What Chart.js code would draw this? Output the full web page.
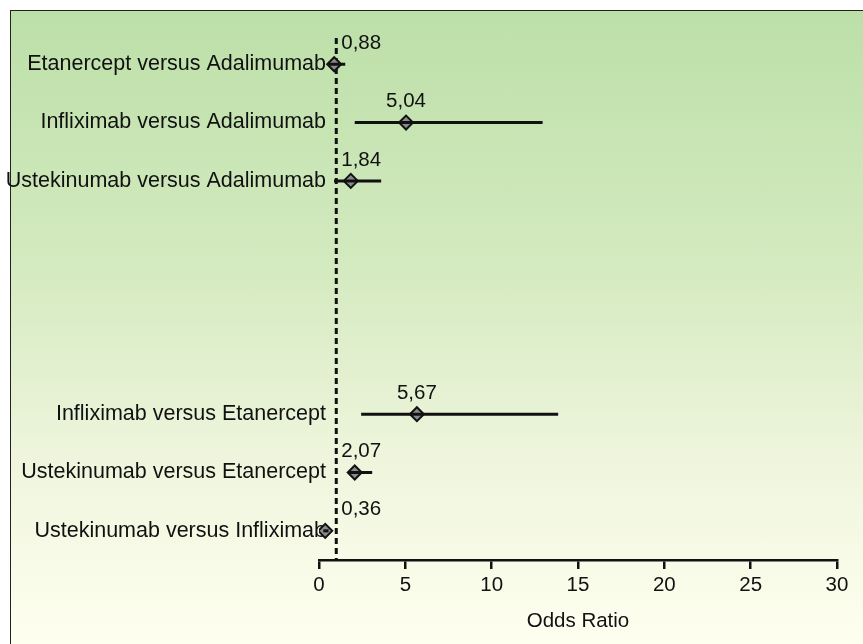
<!DOCTYPE html>
<html>
<head>
<meta charset="utf-8">
<script src="https://cdn.jsdelivr.net/npm/chart.js@4/dist/chart.umd.min.js"></script>
<style>
    html, body { margin: 0; padding: 0; background: #fff; }
    #frame {
        position: absolute;
        left: 10px;
        top: 10px;
        width: 853px;
        height: 634px;
        border-left: 1.5px solid #222;
        border-top: 1.5px solid #222;
        background: linear-gradient(to bottom, #bcdfa8 0%, #d4eac0 40%, #eef5dc 70%, #fffff0 100%);
    }
    #chartForest { position: absolute; left: 0; top: 0; }
</style>
</head>
<body>
<div id="frame"></div>
<canvas id="chartForest" width="863" height="644"></canvas>
<script>
const comparisons = [
    'Etanercept versus Adalimumab',
    'Infliximab versus Adalimumab',
    'Ustekinumab versus Adalimumab',
    '',
    '',
    '',
    'Infliximab versus Etanercept',
    'Ustekinumab versus Etanercept',
    'Ustekinumab versus Infliximab',
];
const oddsRatio = [0.88, 5.04, 1.84, null, null, null, 5.67, 2.07, 0.36];
const ciLow = [0.55, 2.07, 0.87, null, null, null, 2.44, 1.74, 0.25];
const ciHigh = [1.52, 12.95, 3.6, null, null, null, 13.85, 3.08, 0.55];
const xTickValues = [0, 5, 10, 15, 20, 25, 30];
const referenceLine = 1;

const family = '"Liberation Sans", Arial, sans-serif';
Chart.defaults.font.family = family;
Chart.defaults.font.size = 20.5;
Chart.defaults.color = '#111';

const fmt = (v) => v.toFixed(2).replace('.', ',');

// one line per row for the confidence interval
const ciSets = comparisons.map((c, i) => ({
    type: 'scatter',
    showLine: true,
    data: oddsRatio[i] === null ? [] : [{x: ciLow[i], y: i}, {x: ciHigh[i], y: i}],
    borderColor: '#111',
    borderWidth: 3,
    pointRadius: 0,
}));

const pointSet = {
    type: 'scatter',
    data: oddsRatio.map((v, i) => ({x: v, y: i})).filter(p => p.x !== null),
    pointStyle: 'rectRot',
    pointRadius: 7,
    backgroundColor: '#8a8a8a',
    borderColor: '#111',
    borderWidth: 2,
};

const forestPlugin = {
    id: 'forest',
    beforeDatasetsDraw(chart) {
        const {ctx, chartArea, scales} = chart;
        const px = scales.x.getPixelForValue(referenceLine);
        ctx.save();
        ctx.strokeStyle = '#111';
        ctx.lineWidth = 3;
        ctx.setLineDash([6, 4]);
        ctx.beginPath();
        ctx.moveTo(px, chartArea.top);
        ctx.lineTo(px, chartArea.bottom);
        ctx.stroke();
        ctx.restore();

        // row labels, right aligned just past the start of the axis
        ctx.save();
        ctx.font = '21.5px ' + family;
        ctx.fillStyle = '#111';
        ctx.textBaseline = 'middle';
        ctx.textAlign = 'right';
        comparisons.forEach((c, i) => {
            if (!c) return;
            ctx.fillText(c, chartArea.left + 7, scales.y.getPixelForValue(i));
        });
        ctx.restore();
    },
    afterDatasetsDraw(chart) {
        const {ctx, scales} = chart;
        const refX = scales.x.getPixelForValue(referenceLine);
        ctx.save();
        ctx.font = '20.5px ' + family;
        ctx.fillStyle = '#111';
        ctx.textBaseline = 'middle';
        ctx.textAlign = 'left';
        oddsRatio.forEach((v, i) => {
            if (v === null) return;
            const txt = fmt(v);
            const w = ctx.measureText(txt).width;
            const px = scales.x.getPixelForValue(v);
            const py = scales.y.getPixelForValue(i) - 21;
            const left = Math.max(px - w / 2, refX + 5);
            ctx.fillText(txt, left, py);
        });
        ctx.restore();
    }
};

const config = {
    type: 'scatter',
    data: { datasets: [...ciSets, pointSet] },
    options: {
        responsive: false,
        animation: false,
        events: [],
        layout: { padding: { top: 38, right: 26, left: 0, bottom: 0 } },
        plugins: { legend: { display: false }, tooltip: { enabled: false } },
        scales: {
            x: {
                type: 'linear',
                min: 0,
                max: 30,
                afterBuildTicks: (scale) => { scale.ticks = xTickValues.map(v => ({value: v})); },
                afterFit: (scale) => { scale.height = 84; },
                grid: { drawOnChartArea: false, drawTicks: true, tickLength: 9, color: '#111', lineWidth: 2.5 },
                border: { display: true, color: '#111', width: 2.5 },
                ticks: { padding: 4, color: '#111' },
                title: { display: true, text: 'Odds Ratio', color: '#111', padding: { top: 4, bottom: 10 } },
            },
            y: {
                type: 'linear',
                reverse: true,
                min: -0.45,
                max: 8.5,
                afterBuildTicks: (scale) => { scale.ticks = comparisons.map((c, i) => ({value: i})); },
                afterFit: (scale) => { scale.width = 319; },
                grid: { display: false, drawTicks: false },
                border: { display: false },
                ticks: { display: false },
            },
        },
    },
    plugins: [forestPlugin],
};

const chartForest = new Chart(document.getElementById('chartForest'), config);
</script>
</body>
</html>
